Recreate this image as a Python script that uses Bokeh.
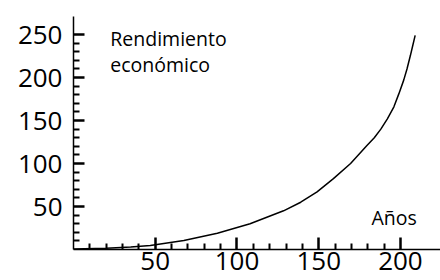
from bokeh.plotting import figure
from bokeh.models import FixedTicker, Label
from bokeh.embed import file_html
from bokeh.resources import INLINE

# Data
years = [0, 20, 35, 47, 67.5, 88, 108, 128.5, 139, 149, 159, 169.5, 179.5, 184, 188, 192, 196, 199, 202, 204, 206, 207.5, 209]
returns = [0.5, 1.5, 3, 4.7, 10.5, 19, 30, 45, 55, 67, 82.5, 100, 121, 130, 140, 152, 166, 181, 197, 210, 225, 237, 249]

x_major = [50, 100, 150, 200]
x_minor = [v for v in range(10, 200, 10) if v % 50 != 0]
y_major = [50, 100, 150, 200, 250]
y_minor = [v for v in range(10, 250, 10) if v % 50 != 0]

y_title_lines = ["Rendimiento", "económico"]
x_title = "Años"

FONT = "Open Sans"
X_END, Y_END = 224.5, 271

p = figure(width=440, height=280, x_range=(0, X_END), y_range=(0, Y_END),
           output_backend="svg", toolbar_location=None,
           min_border_left=73, min_border_right=0, min_border_top=16, min_border_bottom=31)
p.outline_line_color = None
p.xgrid.visible = False
p.ygrid.visible = False

p.line(years, returns, line_color="black", line_width=1.5)

for ax in (p.xaxis[0], p.yaxis[0]):
    ax.axis_line_color = "black"
    ax.axis_line_width = 1.5
    ax.major_tick_line_color = "black"
    ax.minor_tick_line_color = "black"
    ax.major_tick_line_width = 2.5
    ax.minor_tick_line_width = 2
    ax.major_tick_out = 0
    ax.minor_tick_out = 0
    ax.minor_tick_in = 6
    ax.major_label_text_font = FONT
    ax.major_label_text_font_size = "26px"
    ax.major_label_text_color = "black"

p.xaxis[0].ticker = FixedTicker(ticks=x_major, minor_ticks=x_minor)
p.yaxis[0].ticker = FixedTicker(ticks=y_major, minor_ticks=y_minor)
p.xaxis[0].major_tick_in = 12
p.yaxis[0].major_tick_in = 11
p.xaxis[0].major_label_standoff = 2
p.yaxis[0].major_label_standoff = 11

p.add_layout(Label(x=22.5, y=245.5, text=y_title_lines[0], text_font=FONT,
                   text_font_size="19.5px", text_color="black", text_baseline="alphabetic"))
p.add_layout(Label(x=22.5, y=215, text=y_title_lines[1], text_font=FONT,
                   text_font_size="19.5px", text_color="black", text_baseline="alphabetic"))
p.add_layout(Label(x=182.3, y=37.5, text=x_title, text_font=FONT,
                   text_font_size="19.5px", text_color="black", text_baseline="alphabetic"))

open("out.html", "w").write(file_html(p, INLINE))
